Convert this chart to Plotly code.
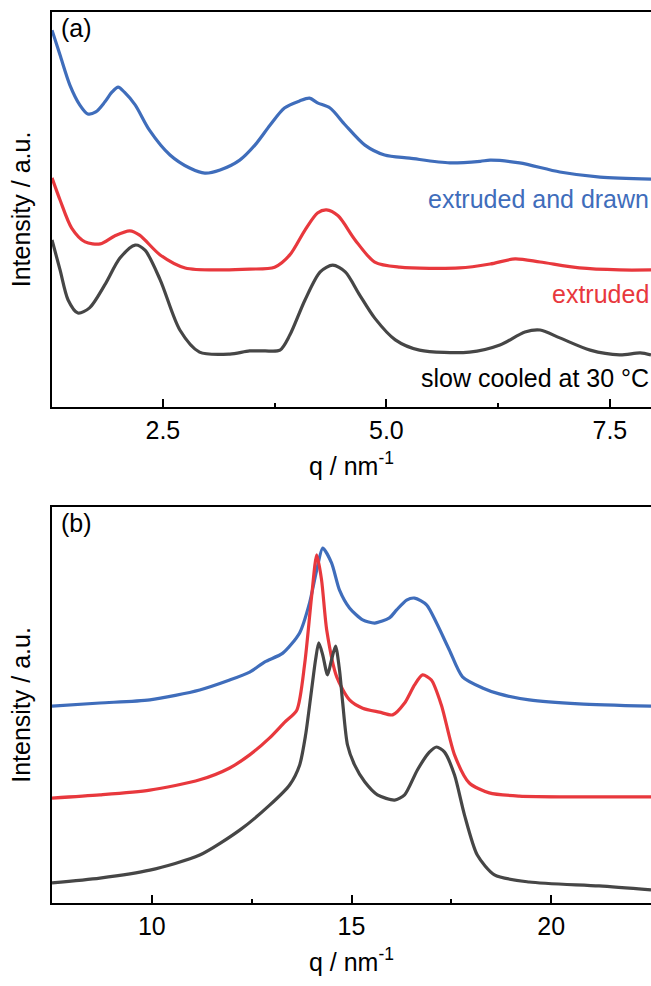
import plotly.graph_objects as go
from plotly.subplots import make_subplots

# ---------------- Panel (a): small-angle region ----------------
qa_drawn = [1.26, 1.35, 1.46, 1.57, 1.66, 1.75, 1.85, 1.93, 2.00, 2.07, 2.19, 2.35, 2.58, 2.80, 2.97,
            3.14, 3.36, 3.53, 3.70, 3.86, 4.03, 4.14, 4.23, 4.37, 4.54, 4.76, 4.98, 5.26, 5.71, 6.05,
            6.16, 6.49, 6.94, 7.39, 7.96]
Ia_drawn = [9.54, 8.91, 8.15, 7.65, 7.42, 7.47, 7.72, 7.97, 8.10, 7.97, 7.65, 7.01, 6.38, 6.05, 5.92,
            6.00, 6.25, 6.63, 7.14, 7.57, 7.75, 7.82, 7.70, 7.57, 7.14, 6.63, 6.38, 6.30, 6.18, 6.22,
            6.25, 6.18, 5.95, 5.82, 5.77]

qa_extr = [1.26, 1.35, 1.48, 1.63, 1.80, 1.96, 2.13, 2.24, 2.47, 2.75, 3.14, 3.47, 3.75, 3.92, 4.09,
           4.23, 4.33, 4.46, 4.65, 4.87, 5.15, 5.82, 6.16, 6.44, 6.72, 7.16, 7.61, 7.96]
Ia_extr = [5.80, 5.24, 4.53, 4.18, 4.13, 4.33, 4.46, 4.35, 3.85, 3.52, 3.47, 3.49, 3.54, 3.85, 4.48,
           4.91, 4.99, 4.84, 4.23, 3.67, 3.54, 3.52, 3.62, 3.75, 3.67, 3.52, 3.47, 3.47]

qa_slow = [1.26, 1.35, 1.44, 1.55, 1.68, 1.85, 2.02, 2.19, 2.30, 2.47, 2.69, 2.91, 3.25, 3.47, 3.64,
           3.81, 3.92, 4.09, 4.26, 4.40, 4.54, 4.70, 4.87, 5.10, 5.37, 5.93, 6.27, 6.55, 6.72, 6.94,
           7.28, 7.61, 7.84, 7.96]
Ia_slow = [4.23, 3.47, 2.71, 2.38, 2.51, 3.09, 3.77, 4.10, 3.97, 3.22, 1.95, 1.39, 1.34, 1.42, 1.42,
           1.44, 1.82, 2.71, 3.42, 3.59, 3.42, 2.84, 2.25, 1.70, 1.44, 1.39, 1.57, 1.90, 1.95, 1.75,
           1.44, 1.32, 1.37, 1.32]

# ---------------- Panel (b): wide-angle region ----------------
qb_drawn = [7.5, 8.7, 9.95, 11.2, 11.95, 12.45, 12.83, 13.28, 13.7, 13.95, 14.13, 14.28, 14.5, 14.7,
            14.95, 15.28, 15.58, 15.95, 16.13, 16.38, 16.58, 16.88, 17.13, 17.45, 17.78, 18.28, 18.7,
            19.45, 20.7, 22.5]
Ib_drawn = [4.97, 5.05, 5.13, 5.38, 5.63, 5.83, 6.09, 6.31, 6.82, 7.58, 8.41, 8.96, 8.59, 7.90,
            7.45, 7.15, 7.07, 7.20, 7.40, 7.65, 7.70, 7.53, 7.07, 6.39, 5.71, 5.43, 5.28,
            5.13, 5.03, 4.97]

qb_extr = [7.5, 8.7, 9.95, 11.2, 11.95, 12.45, 12.95, 13.33, 13.63, 13.83, 14.0, 14.13, 14.25, 14.38,
           14.63, 14.95, 15.28, 15.7, 16.03, 16.33, 16.58, 16.78, 17.0, 17.25, 17.58, 17.95, 18.45,
           19.2, 20.7, 22.5]
Ib_extr = [2.65, 2.73, 2.85, 3.11, 3.41, 3.74, 4.17, 4.57, 4.87, 6.06, 7.73, 8.79, 8.16, 6.89,
           5.71, 5.13, 4.92, 4.82, 4.75, 5.05, 5.51, 5.76, 5.63, 5.00, 3.74, 3.03, 2.78,
           2.70, 2.68, 2.68]

qb_slow = [7.5, 8.7, 9.95, 11.2, 12.2, 12.95, 13.45, 13.7, 13.85, 14.0, 14.1, 14.18, 14.28, 14.4,
           14.5, 14.6, 14.7, 14.78, 14.9, 15.08, 15.33, 15.65, 16.08, 16.33, 16.65, 16.95, 17.13,
           17.33, 17.58, 17.83, 18.15, 18.58, 19.45, 21.2, 22.5]
Ib_slow = [0.51, 0.63, 0.83, 1.21, 1.84, 2.47, 2.98, 3.48, 4.24, 5.38, 6.14, 6.57, 6.26, 5.76,
           6.14, 6.49, 5.88, 5.05, 3.99, 3.48, 3.06, 2.73, 2.60, 2.73, 3.36, 3.81, 3.94,
           3.81, 3.23, 2.22, 1.21, 0.71, 0.53, 0.43, 0.33]

labels = ["extruded and drawn", "extruded", "slow cooled at 30 °C"]
label_y = [5.27, 2.86, 0.73]
colors = ["#3f6dbb", "#e8383d", "#464646"]
label_colors = ["#3f6dbb", "#e8383d", "black"]

FONT = "Liberation Sans, Arial, sans-serif"
FS = 25

fig = make_subplots(rows=2, cols=1, vertical_spacing=0.112)

for q, I, c in zip([qa_drawn, qa_extr, qa_slow], [Ia_drawn, Ia_extr, Ia_slow], colors):
    fig.add_trace(go.Scatter(x=q, y=I, mode="lines", line=dict(color=c, width=3.2, shape="spline", smoothing=0.8),
                             showlegend=False, hoverinfo="skip"), row=1, col=1)
for q, I, c in zip([qb_drawn, qb_extr, qb_slow], [Ib_drawn, Ib_extr, Ib_slow], colors):
    fig.add_trace(go.Scatter(x=q, y=I, mode="lines", line=dict(color=c, width=3.2, shape="spline", smoothing=0.7),
                             showlegend=False, hoverinfo="skip"), row=2, col=1)

H = 986
top, bot = 12, 83
ph = H - top - bot
dom_a = [(903 - 407) / ph, 1.0]
dom_b = [0.0, (903 - 507) / ph]

xcommon = dict(showline=True, linecolor="black", linewidth=2, mirror=True, ticks="inside",
               ticklen=8, tickwidth=2, tickcolor="black", showgrid=False, zeroline=False,
               tickfont=dict(size=FS, color="black", family=FONT),
               title=dict(text="q / nm<sup>-1</sup>", font=dict(size=FS, color="black", family=FONT), standoff=14),
               minor=dict(ticks="inside", ticklen=4, tickwidth=2, tickcolor="black"))
ycommon = dict(showline=True, linecolor="black", linewidth=2, mirror=False, ticks="",
               showticklabels=False, showgrid=False, zeroline=False, range=[0, 10],
               title=dict(text="Intensity / a.u.", font=dict(size=FS, color="black", family=FONT), standoff=12))

fig.update_xaxes(**xcommon, range=[1.26, 7.96], tick0=0, dtick=2.5, tickformat=".1f",
                 minor_dtick=1.25, row=1, col=1)
fig.update_xaxes(**xcommon, range=[7.5, 22.5], tick0=0, dtick=5, minor_dtick=2.5, row=2, col=1)
fig.update_yaxes(**ycommon, row=1, col=1)
fig.update_yaxes(**ycommon, row=2, col=1)
fig.update_layout(yaxis=dict(domain=dom_a), yaxis2=dict(domain=dom_b))

for t, y, c in zip(labels, label_y, label_colors):
    fig.add_annotation(text=t, x=1, xref="x domain", y=y, yref="y", xanchor="right", yanchor="middle",
                       showarrow=False, font=dict(size=FS, color=c, family=FONT))

fig.add_annotation(text="(a)", x=0.012, xref="x domain", y=1, yref="y domain", xanchor="left", yanchor="top",
                   showarrow=False, font=dict(size=FS, color="black", family=FONT))
fig.add_annotation(text="(b)", x=0.012, xref="x2 domain", y=1, yref="y2 domain", xanchor="left", yanchor="top",
                   showarrow=False, font=dict(size=FS, color="black", family=FONT))

fig.update_layout(width=651, height=986, margin=dict(l=52, r=0, t=top, b=bot),
                  paper_bgcolor="white", plot_bgcolor="white", font=dict(family=FONT, color="black"))

fig.write_html("out.html")
